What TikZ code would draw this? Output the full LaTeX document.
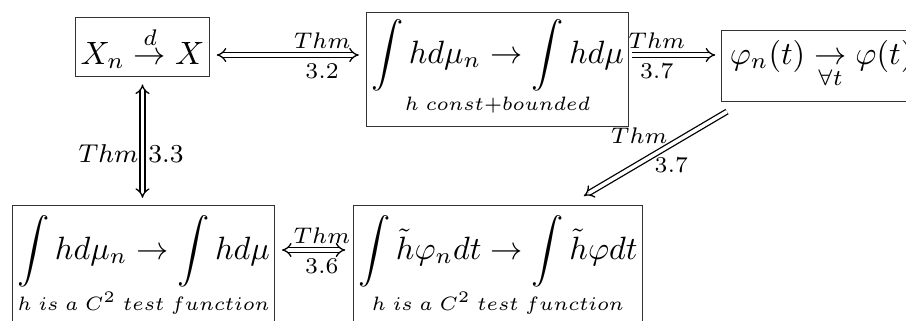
\documentclass[tikz,border=0pt]{standalone}
\usepackage{amsmath}
\usetikzlibrary{arrows.meta}
\newcommand{\cond}[1]{\text{\fontsize{6}{7}\selectfont$#1$}}

\begin{document}
\begin{tikzpicture}[x=0.31pt, y=0.31pt,
  box/.style={draw, black!80, text=black, line width=0.3pt, inner sep=1.5pt},
  imp/.style={double, double distance=1.1pt, line width=0.4pt},
  lbl/.style={inner sep=0.45pt}]
  \useasboundingbox (0,0) rectangle (906,320);
  % top row
  \node[box, text height=12.8pt, text depth=2.5pt, anchor=base] (A) at (142.5,256) {$X_n \overset{d}{\to} X$};
  \node[box, text height=14.3pt, text depth=18.3pt, anchor=base] (B) at (497.5,257)
        {$\underset{\cond{h\;const{+}bounded}}{\displaystyle\int hd\mu_n \to \int hd\mu}$};
  \node[box, inner xsep=2.6pt, text height=9pt, text depth=10pt, anchor=base west] (C) at (721,256)
        {$\varphi_n(t) \underset{\forall t}{\to} \varphi(t)$};
  % bottom row
  \node[box, text height=14.6pt, inner ysep=2pt, anchor=base west] (D) at (12,61)
        {$\underset{\cond{h\;is\;a\;C^2\;test\;function}}{\displaystyle\int hd\mu_n \to \int hd\mu}$};
  \node[box, text height=14.6pt, inner ysep=2pt, anchor=base west] (E) at (353,61)
        {$\underset{\cond{h\;is\;a\;C^2\;test\;function}}{\displaystyle\int \tilde h\varphi_n dt \to \int \tilde h\varphi dt}$};
  % implications
  \draw[imp, Implies-Implies, shorten <=2.2pt, shorten >=2.2pt] ([shift={(0,9)}]A.base east) -- ([shift={(0,8)}]B.base west)
        node[lbl, pos=.72, above=1.5pt] {$\scriptstyle Thm$} node[lbl, pos=.72, below=2pt] {$\scriptstyle 3.2$};
  \draw[imp, -Implies, shorten <=0.9pt, shorten >=1.8pt] ([shift={(0,8)}]B.base east) -- ([shift={(0,9)}]C.base west)
        node[lbl, pos=.3, above=1.5pt] {$\scriptstyle Thm$} node[lbl, pos=.3, below=2pt] {$\scriptstyle 3.7$};
  \draw[imp, Implies-Implies, shorten <=2.2pt, shorten >=2.2pt] (A.south) -- (A.south |- D.north)
        node[lbl, font=\footnotesize, pos=.6, left=0.6pt] {$Thm$} node[lbl, font=\footnotesize, pos=.6, right=1.2pt] {$3.3$};
  \draw[imp, -Implies] ([shift={(6,-10)}]C.south west) -- ([shift={(-59,9)}]E.north east)
        node[lbl, pos=.4, above left] {$\scriptstyle Thm$} node[lbl, pos=.52, below right] {$\scriptstyle 3.7$};
  \draw[imp, Implies-Implies, shorten <=2.1pt, shorten >=2.4pt] ([shift={(0,9)}]D.base east) -- ([shift={(0,9)}]E.base west)
        node[lbl, pos=.6, above=1.5pt] {$\scriptstyle Thm$} node[lbl, pos=.6, below=2pt] {$\scriptstyle 3.6$};
\end{tikzpicture}
\end{document}
